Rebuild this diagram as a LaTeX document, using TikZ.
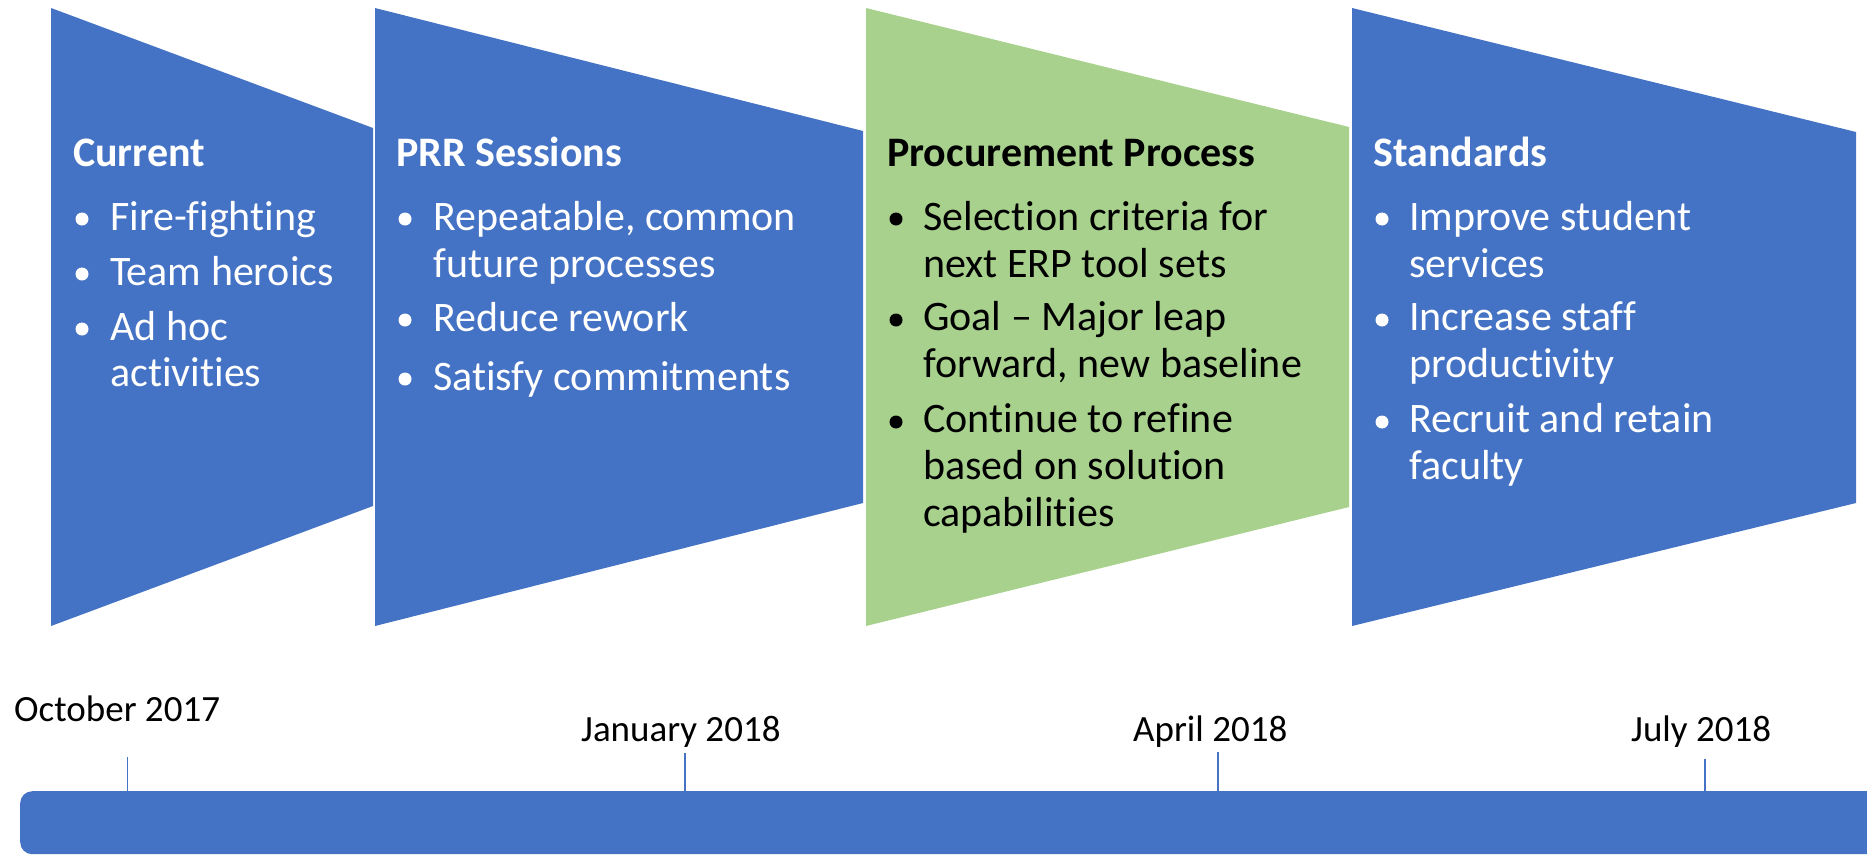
\documentclass[tikz,border=0pt]{standalone}
\usepackage{fontspec}
\setmainfont[Ligatures={NoCommon,TeX}]{Carlito}
\definecolor{obl}{HTML}{4472C4}
\definecolor{ogr}{HTML}{A9D18E}
\begin{document}
\begin{tikzpicture}[x=1pt,y=-1pt,
  txt/.style={anchor=base west, inner sep=0pt, font=\fontsize{42}{47}\selectfont, text=white},
  ttl/.style={txt, font=\fontsize{42}{47}\selectfont\bfseries},
  dk/.style={text=black},
  bul/.style={circle, fill=white, inner sep=0pt, minimum size=13pt},
  bulk/.style={bul, fill=black},
  datelbl/.style={anchor=base west, inner sep=0pt, font=\fontsize{37}{44}\selectfont, text=black},
  tick/.style={draw=obl, line width=1.2pt}]
\useasboundingbox (0,0) rectangle (1867,854);
% panels
\fill[obl] (51,8) -- (373,128) -- (373,506) -- (51,626) -- cycle;
\fill[obl] (375,8) -- (863,131) -- (863,503) -- (375,626) -- cycle;
\fill[ogr] (866,8) -- (1349,127) -- (1349,507) -- (866,626) -- cycle;
\fill[obl] (1352,8) -- (1856,132) -- (1856,503) -- (1352,626) -- cycle;
% Current
\node[ttl] (t1) at (73,166) {Current};
\node[bul] (b11) at (82,219) {};
\node[txt] (l11) at (110,230) {Fire-fighting};
\node[bul] (b12) at (82,274) {};
\node[txt] (l12) at (110,285) {Team heroics};
\node[bul] (b13) at (82,329) {};
\node[txt] (l13) at (110,340) {Ad hoc};
\node[txt] (l13b) at (110,386.5) {activities};
% PRR
\node[ttl] (t2) at (396,166) {PRR Sessions};
\node[bul] (b21) at (405,219) {};
\node[txt] (l21) at (433,230) {Repeatable, common};
\node[txt] (l21b) at (433,277) {future processes};
\node[bul] (b22) at (405,320) {};
\node[txt] (l22) at (433,331) {Reduce rework};
\node[bul] (b23) at (405,379) {};
\node[txt] (l23) at (433,390) {Satisfy commitments};
% Procurement
\node[ttl,dk] (t3) at (887,166) {Procurement Process};
\node[bulk] (b31) at (896,219) {};
\node[txt,dk] (l31) at (923,230.5) {Selection criteria for};
\node[txt,dk] (l31b) at (923,277.5) {next ERP tool sets};
\node[bulk] (b32) at (896,320) {};
\node[txt,dk] (l32) at (923,330.5) {Goal -- Major leap};
\node[txt,dk] (l32b) at (923,377.5) {forward, new baseline};
\node[bulk] (b33) at (896,422) {};
\node[txt,dk] (l33) at (923,432.5) {Continue to refine};
\node[txt,dk] (l33b) at (923,479.5) {based on solution};
\node[txt,dk] (l33c) at (923,526.5) {capabilities};
% Standards
\node[ttl] (t4) at (1373,166) {Standards};
\node[bul] (b41) at (1382,219) {};
\node[txt] (l41) at (1409,230.5) {Improve student};
\node[txt] (l41b) at (1409,277.5) {services};
\node[bul] (b42) at (1382,320) {};
\node[txt] (l42) at (1409,330.5) {Increase staff};
\node[txt] (l42b) at (1409,377.5) {productivity};
\node[bul] (b43) at (1382,422) {};
\node[txt] (l43) at (1409,432.5) {Recruit and retain};
\node[txt] (l43b) at (1409,479.5) {faculty};
% timeline bar
\node[fill=obl, rounded corners=12pt, inner sep=0pt, minimum width=1900pt, minimum height=63pt, anchor=north west] (bar) at (20,791) {};
% dates
\node[datelbl] (d1) at (14,721.5) {October 2017};
\node[datelbl] (d2) at (581,741) {January 2018};
\node[datelbl] (d3) at (1133,741) {April 2018};
\node[datelbl] (d4) at (1631,741) {July 2018};
\coordinate (k1) at (127.5,757);
\coordinate (k2) at (685,753);
\coordinate (k3) at (1218,752);
\coordinate (k4) at (1705,759);
\draw[tick] (k1) -- (k1 |- bar.north);
\draw[tick] (k2) -- (k2 |- bar.north);
\draw[tick] (k3) -- (k3 |- bar.north);
\draw[tick] (k4) -- (k4 |- bar.north);
\end{tikzpicture}
\end{document}
